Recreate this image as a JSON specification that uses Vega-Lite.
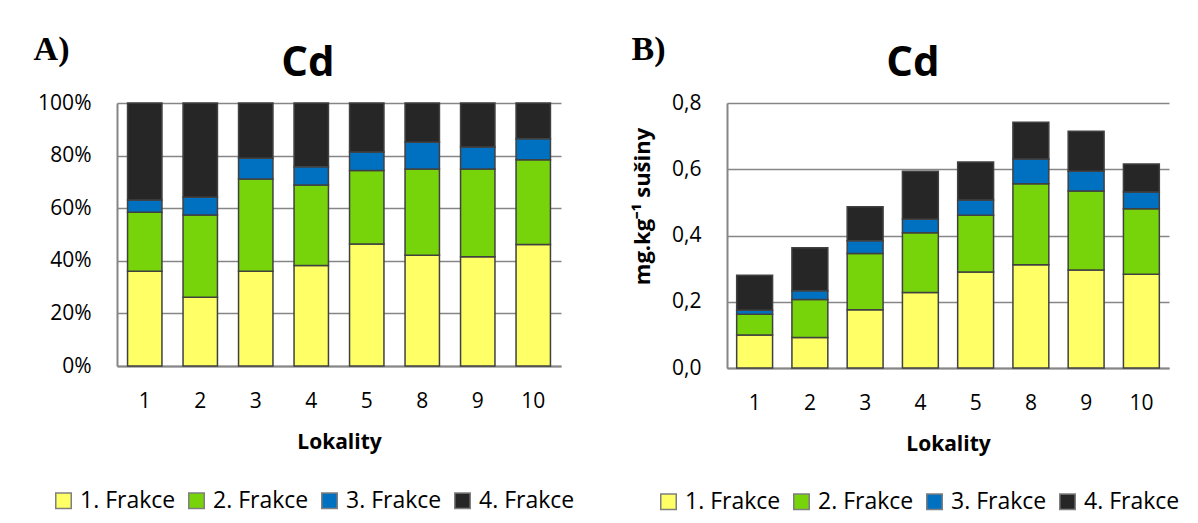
{
  "$schema": "https://vega.github.io/schema/vega-lite/v6.json",
  "background": "white",
  "padding": {"left": 33, "top": 33, "right": 0, "bottom": 0},
  "config": {
    "font": "Open Sans",
    "view": {"stroke": null},
    "axis": {
      "labelFont": "Open Sans",
      "labelColor": "#000000",
      "labelFontSize": 21,
      "titleFont": "Open Sans",
      "titleColor": "#000000",
      "titleFontWeight": "bold",
      "domainColor": "#868686",
      "domainWidth": 2,
      "gridColor": "#868686",
      "gridWidth": 1.5,
      "ticks": false
    },
    "axisX": {"labelAngle": 0, "labelPadding": 24, "titleFontSize": 21, "titlePadding": 20, "grid": false},
    "axisY": {"labelPadding": 26, "grid": true},
    "legend": {
      "labelFont": "Open Sans",
      "labelFontSize": 23,
      "labelColor": "#000000",
      "symbolType": "square",
      "symbolSize": 240,
      "symbolStrokeColor": "#7f7f7f",
      "symbolStrokeWidth": 1.5,
      "symbolOpacity": 1,
      "direction": "horizontal",
      "orient": "none",
      "columnPadding": 9,
      "labelOffset": 5
    },
    "title": {"font": "Open Sans", "fontSize": 42, "fontWeight": "bold", "color": "#000000"}
  },
  "datasets": {
    "pct": [
      {"lok": "1", "f": "1. Frakce", "v": 36.0}, {"lok": "1", "f": "2. Frakce", "v": 22.5}, {"lok": "1", "f": "3. Frakce", "v": 4.6}, {"lok": "1", "f": "4. Frakce", "v": 36.9},
      {"lok": "2", "f": "1. Frakce", "v": 26.1}, {"lok": "2", "f": "2. Frakce", "v": 31.3}, {"lok": "2", "f": "3. Frakce", "v": 6.8}, {"lok": "2", "f": "4. Frakce", "v": 35.8},
      {"lok": "3", "f": "1. Frakce", "v": 36.0}, {"lok": "3", "f": "2. Frakce", "v": 35.1}, {"lok": "3", "f": "3. Frakce", "v": 7.9}, {"lok": "3", "f": "4. Frakce", "v": 21.0},
      {"lok": "4", "f": "1. Frakce", "v": 38.2}, {"lok": "4", "f": "2. Frakce", "v": 30.6}, {"lok": "4", "f": "3. Frakce", "v": 7.0}, {"lok": "4", "f": "4. Frakce", "v": 24.2},
      {"lok": "5", "f": "1. Frakce", "v": 46.4}, {"lok": "5", "f": "2. Frakce", "v": 27.9}, {"lok": "5", "f": "3. Frakce", "v": 7.1}, {"lok": "5", "f": "4. Frakce", "v": 18.6},
      {"lok": "8", "f": "1. Frakce", "v": 42.1}, {"lok": "8", "f": "2. Frakce", "v": 32.8}, {"lok": "8", "f": "3. Frakce", "v": 10.2}, {"lok": "8", "f": "4. Frakce", "v": 14.9},
      {"lok": "9", "f": "1. Frakce", "v": 41.5}, {"lok": "9", "f": "2. Frakce", "v": 33.4}, {"lok": "9", "f": "3. Frakce", "v": 8.4}, {"lok": "9", "f": "4. Frakce", "v": 16.7},
      {"lok": "10", "f": "1. Frakce", "v": 46.2}, {"lok": "10", "f": "2. Frakce", "v": 32.2}, {"lok": "10", "f": "3. Frakce", "v": 8.0}, {"lok": "10", "f": "4. Frakce", "v": 13.6}
    ],
    "abs": [
      {"lok": "1", "f": "1. Frakce", "v": 0.100}, {"lok": "1", "f": "2. Frakce", "v": 0.062}, {"lok": "1", "f": "3. Frakce", "v": 0.012}, {"lok": "1", "f": "4. Frakce", "v": 0.106},
      {"lok": "2", "f": "1. Frakce", "v": 0.092}, {"lok": "2", "f": "2. Frakce", "v": 0.115}, {"lok": "2", "f": "3. Frakce", "v": 0.026}, {"lok": "2", "f": "4. Frakce", "v": 0.130},
      {"lok": "3", "f": "1. Frakce", "v": 0.176}, {"lok": "3", "f": "2. Frakce", "v": 0.170}, {"lok": "3", "f": "3. Frakce", "v": 0.038}, {"lok": "3", "f": "4. Frakce", "v": 0.103},
      {"lok": "4", "f": "1. Frakce", "v": 0.228}, {"lok": "4", "f": "2. Frakce", "v": 0.180}, {"lok": "4", "f": "3. Frakce", "v": 0.041}, {"lok": "4", "f": "4. Frakce", "v": 0.145},
      {"lok": "5", "f": "1. Frakce", "v": 0.290}, {"lok": "5", "f": "2. Frakce", "v": 0.171}, {"lok": "5", "f": "3. Frakce", "v": 0.046}, {"lok": "5", "f": "4. Frakce", "v": 0.115},
      {"lok": "8", "f": "1. Frakce", "v": 0.312}, {"lok": "8", "f": "2. Frakce", "v": 0.244}, {"lok": "8", "f": "3. Frakce", "v": 0.075}, {"lok": "8", "f": "4. Frakce", "v": 0.111},
      {"lok": "9", "f": "1. Frakce", "v": 0.296}, {"lok": "9", "f": "2. Frakce", "v": 0.238}, {"lok": "9", "f": "3. Frakce", "v": 0.060}, {"lok": "9", "f": "4. Frakce", "v": 0.121},
      {"lok": "10", "f": "1. Frakce", "v": 0.283}, {"lok": "10", "f": "2. Frakce", "v": 0.198}, {"lok": "10", "f": "3. Frakce", "v": 0.050}, {"lok": "10", "f": "4. Frakce", "v": 0.085}
    ]
  },
  "resolve": {"legend": {"color": "independent"}, "scale": {"color": "independent"}},
  "spacing": 56,
  "hconcat": [
    {
      "title": {"text": "A)", "anchor": "start", "font": "Liberation Serif", "fontSize": 34, "fontWeight": "bold", "dy": 29, "dx": -4},
      "vconcat": [
        {
          "data": {"name": "pct"},
          "width": 444,
          "height": 263,
          "title": {"text": "Cd", "offset": 7, "dx": -31},
          "mark": {"type": "bar", "stroke": "#404040", "strokeWidth": 1.5},
          "encoding": {
            "x": {"field": "lok", "type": "ordinal", "sort": ["1", "2", "3", "4", "5", "8", "9", "10"], "scale": {"paddingInner": 0.38, "paddingOuter": 0.19}, "axis": {"title": "Lokality"}},
            "y": {"field": "v", "type": "quantitative", "stack": "zero", "scale": {"domain": [0, 100], "nice": false}, "axis": {"title": null, "values": [0, 20, 40, 60, 80, 100], "labelExpr": "datum.value + '%'"}},
            "color": {"field": "f", "type": "nominal", "scale": {"domain": ["1. Frakce", "2. Frakce", "3. Frakce", "4. Frakce"], "range": ["#FFFF66", "#78D40A", "#0070C0", "#262626"]}, "legend": {"title": null, "legendX": -65, "legendY": 386}},
            "order": {"field": "f", "type": "ordinal", "sort": "ascending"}
          }
        }
      ]
    },
    {
      "title": {"text": "B)", "anchor": "start", "font": "Liberation Serif", "fontSize": 34, "fontWeight": "bold", "dy": 29},
      "vconcat": [
        {
          "data": {"name": "abs"},
          "width": 442,
          "height": 265,
          "title": {"text": "Cd", "offset": 7, "dx": -35},
          "mark": {"type": "bar", "stroke": "#404040", "strokeWidth": 1.5},
          "encoding": {
            "x": {"field": "lok", "type": "ordinal", "sort": ["1", "2", "3", "4", "5", "8", "9", "10"], "scale": {"paddingInner": 0.35, "paddingOuter": 0.175}, "axis": {"title": "Lokality"}},
            "y": {"field": "v", "type": "quantitative", "stack": "zero", "scale": {"domain": [0, 0.8], "nice": false}, "axis": {"title": "mg.kg⁻¹ sušiny", "titleFontSize": 22, "titlePadding": 17, "titleY": 103, "values": [0, 0.2, 0.4, 0.6, 0.8], "labelExpr": "replace(format(datum.value, '.1f'), '.', ',')"}},
            "color": {"field": "f", "type": "nominal", "scale": {"domain": ["1. Frakce", "2. Frakce", "3. Frakce", "4. Frakce"], "range": ["#FFFF66", "#78D40A", "#0070C0", "#262626"]}, "legend": {"title": null, "legendX": -70, "legendY": 387}},
            "order": {"field": "f", "type": "ordinal", "sort": "ascending"}
          }
        }
      ]
    }
  ]
}
